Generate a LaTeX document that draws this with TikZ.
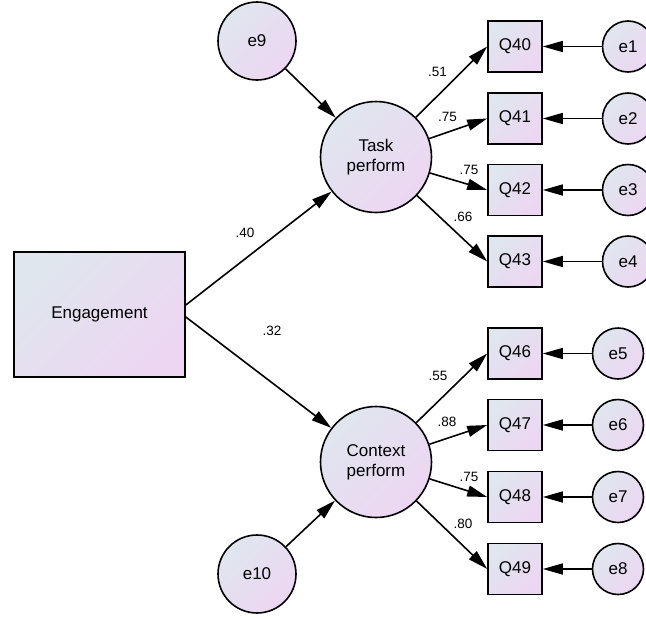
\documentclass[tikz,border=0pt]{standalone}
\usepackage{fontspec}
\setmainfont{Liberation Sans}
\usetikzlibrary{arrows.meta}
\definecolor{shadeA}{RGB}{223,230,238}
\definecolor{shadeB}{RGB}{237,214,242}
\tikzset{
  base/.style={draw=black, line width=1.6pt, top color=shadeA, bottom color=shadeB,
    shading angle=45, inner sep=0pt, align=center, font=\fontsize{17}{20}\selectfont},
  latent/.style={base, circle, minimum size=#1},
  observed/.style={base, rectangle, minimum width=54pt, minimum height=51pt},
  path/.style={line width=1.6pt, -{Triangle[length=20pt,width=11pt]}},
  coef/.style={font=\fontsize{13.5}{14}\selectfont, inner sep=0pt}
}
\begin{document}
\begin{tikzpicture}[x=1pt,y=-1pt]
\useasboundingbox (0,0) rectangle (646,619);
\clip (0,0) rectangle (646,619);

% exogenous variable
\node[base, rectangle, minimum width=171pt, minimum height=125pt] (eng) at (99.5,314.5) {Engagement};

% latent factors and their disturbances
\node[latent=111pt] (task) at (376,157) {Task\\perform};
\node[latent=111pt] (ctx) at (376,462) {Context\\perform};
\node[latent=78pt] (e9) at (257,41) {e9};
\node[latent=78pt] (e10) at (257,574) {e10};

% indicators
\foreach \q/\y in {40/46.5,41/118.5,42/190,43/261.5,46/353.5,47/425,48/497,49/569}
  \node[observed] (q\q) at (515,\y) {Q\q};

% measurement errors
\foreach \e/\x/\y in {1/628/46.5,2/628/118.5,3/628/190,4/628/261.5,5/618/353.5,6/618/425,7/618/497,8/618/569}
  \node[latent=51pt] (e\e) at (\x,\y) {e\e};

% structural paths
\draw[path] ([yshift=9.5pt]eng.east) -- (task);
\draw[path] ([yshift=-2.5pt]eng.east) -- (ctx);
\draw[path] (e9) -- (task);
\draw[path] (e10) -- (ctx);

% loadings
\foreach \q in {40,41,42,43} \draw[path] (task) -- (q\q.west);
\foreach \q in {46,47,48,49} \draw[path] (ctx) -- (q\q.west);

% error terms
\foreach \e/\q in {1/40,2/41,3/42,4/43,5/46,6/47,7/48,8/49}
  \draw[path] (e\e) -- (q\q.east);

% coefficients
\node[coef] (c1) at (245,233) {.40};
\node[coef] (c2) at (272,331) {.32};
\node[coef] (c3) at (437.5,72) {.51};
\node[coef] (c4) at (447.5,117) {.75};
\node[coef] (c5) at (469,170) {.75};
\node[coef] (c6) at (463,217) {.66};
\node[coef] (c7) at (438,376) {.55};
\node[coef] (c8) at (447,422) {.88};
\node[coef] (c9) at (469,477) {.75};
\node[coef] (c10) at (463,524) {.80};
\end{tikzpicture}
\end{document}
